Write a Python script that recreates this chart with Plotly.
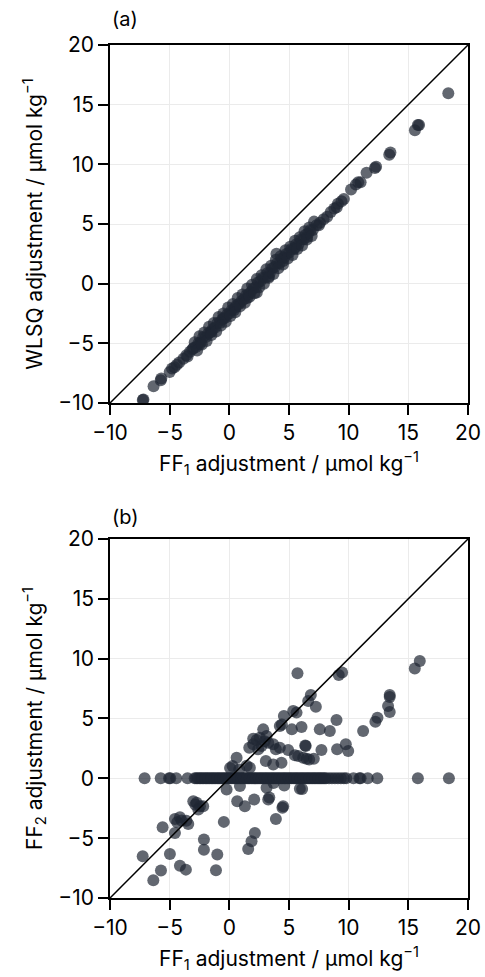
import plotly.graph_objects as go

# panel (a): FF1 vs WLSQ adjustment
ff1_a = [-7.25, -7.2, -6.35, -5.75, -5.7, -5.0, -4.8, -4.4, -4.2, -3.85, -3.6, -3.3, -3.1,
         -3.0, -2.8, -2.6, -2.4, -2.2, -2.0, -1.8, -1.6, -1.4, -1.2, -1.0, -0.8, -0.6, -0.4, -0.2,
         0.0, 0.2, 0.4, 0.6, 0.8, 1.0, 1.2, 1.4, 1.6, 1.8, 2.0, 2.2, 2.4, 2.6, 2.8, 3.0, 3.2,
         3.4, 3.6, 3.8, 4.0, 4.2, 4.4, 4.6, 4.8, 5.0, 5.2, 5.4, 5.6, 5.8, 6.0, 6.2, 6.4, 6.6,
         6.8, 7.0, 7.3, 7.6, 7.9, 8.2, 8.5, 8.8, 9.0, 9.1, 9.4, 9.6,
         -2.5, -1.5, -0.5, 0.5, 1.5, 2.3, 3.3, 4.5, 5.5, 6.5, 7.5, -3.5, -4.6, 3.95,
         10.2, 10.6, 10.8, 11.0, 11.5, 12.2, 12.3, 13.4, 13.5, 15.55, 15.8, 15.9, 18.35]
wlsq_a = [-9.75, -9.7, -8.6, -8.1, -7.95, -7.4, -7.1, -6.8, -6.6, -6.3, -6.0, -5.7, -5.5,
          -5.4, -5.3, -5.0, -4.9, -4.5, -4.5, -4.2, -4.1, -3.8, -3.7, -3.3, -3.3, -3.0, -2.9, -2.6,
          -2.5, -2.2, -2.2, -1.8, -1.7, -1.5, -1.3, -1.0, -0.9, -0.7, -0.4, -0.3, 0.1, 0.2, 0.5, 0.5, 0.9,
          0.9, 1.3, 1.4, 1.7, 1.7, 2.1, 2.2, 2.5, 2.6, 2.9, 2.9, 3.3, 3.3, 3.7, 3.7, 4.1, 4.2,
          4.5, 4.5, 4.9, 5.1, 5.4, 5.6, 6.0, 6.3, 6.4, 6.7, 6.9, 7.1,
          -5.1, -4.0, -2.9, -2.0, -1.2, -0.75, 0.6, 1.9, 3.0, 3.9, 4.9, -6.1, -7.0, 2.5,
          7.9, 8.3, 8.5, 8.5, 9.3, 9.7, 9.8, 10.8, 11.0, 12.85, 13.3, 13.3, 15.95]
# denser part of the (a) band
ff1_a_band = [-2.9, -2.5, -2.1, -1.7, -1.3, -0.9, -0.5, -0.1, 0.3, 0.7, 1.1, 1.5, 1.9, 2.3,
              2.7, 3.1, 3.5, 3.9, 4.3, 4.7, 5.1, 5.5, 5.9, 6.3, 6.7, 7.1,
              -2.7, -2.3, -1.9, -1.5, -1.1, -0.7, -0.3, 0.1, 0.5, 0.9, 1.3, 1.7, 2.1, 2.5,
              2.9, 3.3, 3.7, 4.1, 4.5, 4.9, 5.3, 5.7, 6.1, 6.5, 6.9]
wlsq_a_band = [-4.9, -4.4, -4.1, -3.6, -3.3, -2.8, -2.5, -2.0, -1.7, -1.2, -0.9, -0.4, -0.1, 0.4,
               0.7, 1.2, 1.5, 2.0, 2.3, 2.8, 3.1, 3.6, 3.9, 4.4, 4.7, 5.2,
               -5.6, -5.1, -4.8, -4.3, -4.0, -3.5, -3.2, -2.7, -2.4, -1.9, -1.6, -1.1, -0.8, -0.3,
               0.0, 0.5, 0.8, 1.3, 1.6, 2.1, 2.4, 2.9, 3.2, 3.7, 4.0]

# panel (b): FF1 vs FF2 adjustment
ff1_b = [-7.1, -5.75, -5.05, -4.95, -4.45, -3.5,
         -2.9, -2.65, -2.4, -2.15, -1.9, -1.65, -1.4, -1.15, -0.9, -0.65, -0.4, -0.15, 0.1, 0.35,
         0.6, 0.85, 1.1, 1.35, 1.6, 1.85, 2.1, 2.35, 2.6, 2.85, 3.1, 3.35, 3.6, 3.85, 4.1, 4.35,
         4.6, 4.85, 5.1, 5.35, 5.6, 5.85, 6.1, 6.35, 6.6, 6.85, 7.1, 7.35, 7.6, 7.85, 8.1, 8.35,
         8.6, 8.85, 9.1, 9.35, 9.6, 9.8,
         10.4, 10.9, 11.0, 11.6, 12.4, 15.8, 18.4,
         5.71, 9.17, 9.45, 15.54, 15.96, 6.83, 6.61, 7.25, 13.44, 13.44, 13.3, 13.44, 12.24, 12.41,
         11.21, 8.98, 9.76, 9.96, 9.03, 8.42, 7.58, 7.72, 7.08, 6.69, 6.47, 6.19, 5.77, 5.49,
         6.36, 6.4, 6.05, 5.63, 5.35, 5.24, 4.57, 4.23, 4.4, 4.93, 4.23, 3.9, 3.68, 2.84, 3.12,
         3.26, 2.95, 2.7, 2.28, 2.0, 1.67, 2.42, 2.0, 2.55, 3.06, 3.68, 4.37, 0.61, 0.27, 0.83,
         1.72, 1.45, 0.06,
         -0.23, 0.89, 2.08, 0.66, 1.3, 3.12, 3.26, 3.35, 4.51, 4.45, 3.9, 5.91, 4.6, 3.7, 6.1,
         -3.02, -2.74, -2.46, -2.85, -2.19, -2.6, -4.56, -4.14, -4.36, -3.44, -4.0, -3.6, -5.59,
         -4.56, -0.46, -7.26, -5.73, -6.37, -4.98, -4.14, -3.64, -2.13, -2.13, -1.01, -1.12,
         1.58, 1.86, 2.14]
ff2_b = [0, 0, 0, 0, 0, 0,
         0, 0, 0, 0, 0, 0, 0, 0, 0, 0, 0, 0, 0, 0,
         0, 0, 0, 0, 0, 0, 0, 0, 0, 0, 0, 0, 0, 0, 0, 0,
         0, 0, 0, 0, 0, 0, 0, 0, 0, 0, 0, 0, 0, 0, 0, 0,
         0, 0, 0, 0, 0, 0,
         0, 0, 0, 0, 0, 0, 0,
         8.78, 8.64, 8.84, 9.17, 9.81, 6.97, 6.46, 5.99, 6.97, 6.8, 6.04, 5.54, 4.73, 5.07,
         3.95, 4.87, 2.84, 2.28, 2.42, 3.95, 4.09, 2.36, 1.64, 1.58, 1.64, 1.72, 1.86, 1.92,
         2.75, 2.7, 4.29, 5.49, 5.63, 4.09, 5.21, 4.37, 4.5, 2.36, 2.56, 2.42, 2.84, 4.09, 3.53,
         2.98, 3.1, 2.7, 3.2, 3.31, 2.56, 2.42, 2.84, 3.4, 1.44, 1.16, 1.3, 1.72, 1.02, 0.74,
         0.88, 1.05, 0.87,
         -0.93, -0.65, -1.77, -1.91, -2.33, -0.79, -1.77, -1.6, -2.33, -2.45, -3.39, -0.87, -0.6, -0.4, -0.9,
         -1.91, -2.05, -2.33, -2.2, -2.33, -2.6, -3.39, -3.25, -3.67, -3.81, -3.53, -3.55, -4.09,
         -4.56, -3.64, -6.51, -7.71, -8.52, -6.32, -7.3, -7.63, -5.12, -5.96, -6.37, -7.69,
         -5.9, -5.26, -4.56]
# floats with no FF2 adjustment (dense part of the zero row)
ff1_b_zero = [-2.78, -2.52, -2.28, -2.02, -1.78, -1.52, -1.28, -1.02, -0.78, -0.52, -0.28, -0.02,
              0.22, 0.48, 0.72, 0.98, 1.22, 1.48, 1.72, 1.98, 2.22, 2.48, 2.72, 2.98, 3.22, 3.48,
              3.72, 3.98, 4.22, 4.48, 4.72, 4.98, 5.22, 5.48, 5.72, 5.98, 6.22, 6.48, 6.72, 6.98,
              7.22, 7.48, 7.72, 7.98]
ff2_b_zero = [0] * len(ff1_b_zero)

axis_range = [-10, 20]
tick_vals = [-10, -5, 0, 5, 10, 15, 20]

dot = dict(size=12, color="#1f2733", opacity=0.7, line=dict(width=0))
fig = go.Figure()
fig.add_trace(go.Scatter(x=ff1_a + ff1_a_band, y=wlsq_a + wlsq_a_band, mode="markers",
                         marker=dot, xaxis="x", yaxis="y"))
fig.add_trace(go.Scatter(x=axis_range, y=axis_range, mode="lines",
                         line=dict(color="black", width=1.5), xaxis="x", yaxis="y"))
fig.add_trace(go.Scatter(x=ff1_b + ff1_b_zero, y=ff2_b + ff2_b_zero, mode="markers",
                         marker=dot, xaxis="x2", yaxis="y2"))
fig.add_trace(go.Scatter(x=axis_range, y=axis_range, mode="lines",
                         line=dict(color="black", width=1.5), xaxis="x2", yaxis="y2"))

ax = dict(range=axis_range, tickvals=tick_vals, showgrid=True, gridcolor="#ebebeb", gridwidth=1,
          showline=True, linecolor="black", linewidth=1.5, mirror=True, ticks="outside",
          ticklen=10, tickwidth=1.5, tickcolor="black", zeroline=False, automargin=False,
          tickfont=dict(size=21, color="black"))
unit = " adjustment / µmol kg<sup>−1</sup>"
title_font = dict(size=21, color="black")
xtitle = dict(text="FF<sub>1</sub>" + unit, font=title_font, standoff=12)

fig.update_layout(
    width=485, height=977,
    margin=dict(l=110, r=17, t=45, b=79),
    paper_bgcolor="white", plot_bgcolor="white",
    font=dict(family="Inter", color="black"),
    showlegend=False,
    xaxis=dict(ax, domain=[0, 1], anchor="y", title=xtitle),
    yaxis=dict(ax, domain=[0.5803, 1], anchor="x",
               title=dict(text="WLSQ" + unit, font=title_font, standoff=10)),
    xaxis2=dict(ax, domain=[0, 1], anchor="y2", title=xtitle),
    yaxis2=dict(ax, domain=[0, 0.4209], anchor="x2",
                title=dict(text="FF<sub>2</sub>" + unit, font=title_font, standoff=10)),
    annotations=[
        dict(text="(a)", x=0, y=1.0305, xref="paper", yref="paper", xanchor="left",
             yanchor="middle", showarrow=False, font=dict(size=20, color="black")),
        dict(text="(b)", x=0, y=0.4467, xref="paper", yref="paper", xanchor="left",
             yanchor="middle", showarrow=False, font=dict(size=20, color="black")),
    ],
)

# drop the default body margin so the figure fills the window exactly
fig.write_html("out.html", config={"displayModeBar": False},
               post_script="document.body.style.margin = '0';")
